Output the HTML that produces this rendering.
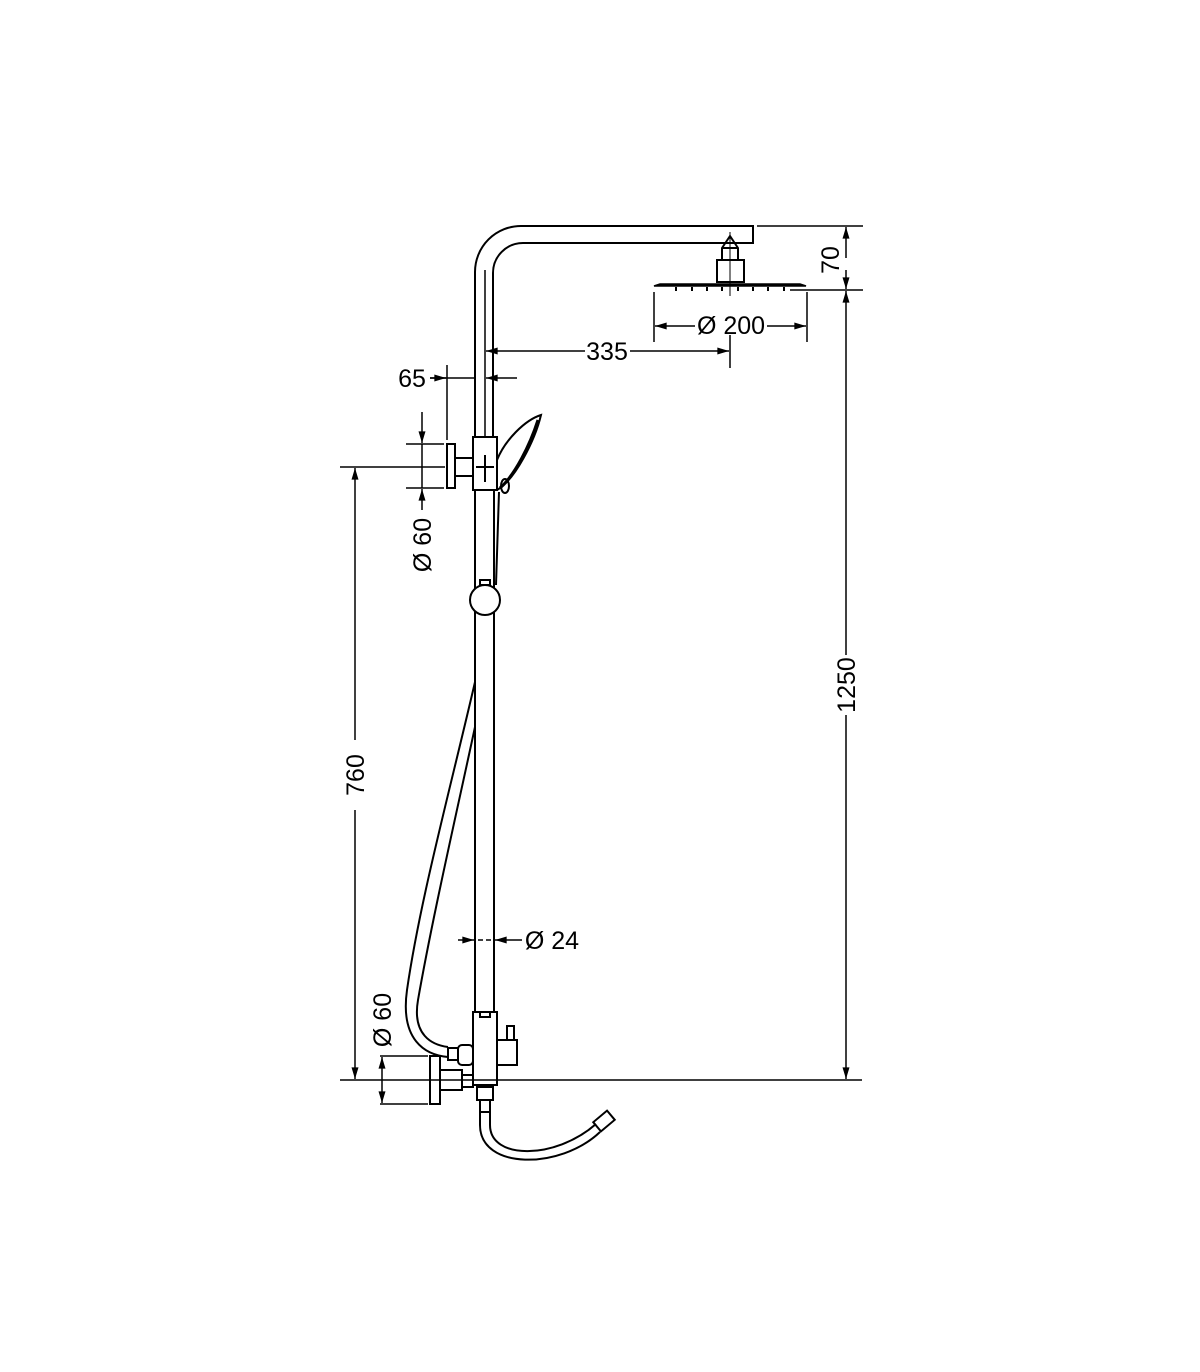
<!DOCTYPE html>
<html><head><meta charset="utf-8"><style>
html,body{margin:0;padding:0;background:#fff}
svg{display:block}
text{font-family:"Liberation Sans",sans-serif;font-size:25px;fill:#000}
</style></head><body>
<svg width="1200" height="1372" viewBox="0 0 1200 1372" xmlns="http://www.w3.org/2000/svg">
<defs>
<marker id="a" viewBox="0 0 10 6" refX="10" refY="3" markerWidth="18" markerHeight="7" markerUnits="userSpaceOnUse" orient="auto"><path d="M0,0 L10,3 L0,6 z" fill="#000"/></marker>
</defs>
<g fill="none" stroke="#000" stroke-width="2">
<path d="M475,437 V272 A46,46 0 0 1 521,226 H753 V243 H523 A30,30 0 0 0 493,273 V437"/>
<line x1="485" y1="270" x2="485" y2="437" stroke-width="1.5"/>
<path d="M722,260 V248 L730,236 L738,248 V260"/>
<line x1="722" y1="248" x2="738" y2="248"/>
<rect x="717" y="260" width="27" height="22"/>
<path d="M654,286 L660,284 H800 L806,286 Z" fill="#000" stroke-width="1.5"/>
<g stroke-width="2">
<line x1="676" y1="287" x2="676" y2="291"/><line x1="692" y1="287" x2="692" y2="291"/><line x1="707" y1="287" x2="707" y2="291"/><line x1="722" y1="287" x2="722" y2="291"/><line x1="738" y1="287" x2="738" y2="291"/><line x1="753" y1="287" x2="753" y2="291"/><line x1="768" y1="287" x2="768" y2="291"/><line x1="784" y1="287" x2="784" y2="291"/>
</g>
<line x1="730" y1="232" x2="730" y2="296" stroke-width="1"/>
<rect x="473" y="437" width="24" height="53"/>
<rect x="447" y="444" width="8" height="44"/>
<rect x="455" y="458" width="18" height="18"/>
<line x1="485" y1="455" x2="485" y2="482"/><line x1="476" y1="467" x2="494" y2="467"/>
<path d="M497,460 C505,440 525,420 541,415 C535,440 515,480 497,490"/>
<path d="M538,420 C530,445 515,475 500,488" stroke-width="3"/>
<ellipse cx="505" cy="486" rx="4" ry="7"/>
<line x1="475" y1="490" x2="475" y2="1012"/><line x1="494" y1="490" x2="494" y2="1012"/>
<path d="M499,492 C498,530 497,560 496,585"/>
<circle cx="485" cy="600" r="15" fill="#fff"/>
<rect x="480" y="580" width="10" height="5"/>
<path d="M475,682 C450,790 420,900 407,990 C400,1040 425,1055 448,1057"/>
<path d="M475,727 C455,820 432,920 418,1000 C412,1035 432,1045 448,1047"/>
<rect x="473" y="1012" width="24" height="73"/>
<rect x="480" y="1012" width="10" height="5"/>
<rect x="497" y="1040" width="20" height="25"/>
<rect x="507" y="1026" width="7" height="14"/>
<rect x="448" y="1048" width="10" height="12"/>
<rect x="458" y="1045" width="15" height="20" rx="4"/>
<rect x="430" y="1056" width="10" height="48"/>
<rect x="440" y="1070" width="22" height="20"/>
<rect x="462" y="1075" width="11" height="12"/>
<rect x="477" y="1087" width="16" height="13"/>
<rect x="480" y="1100" width="10" height="12"/>
<path d="M480,1112 V1125 C480,1170 560,1170 600,1132"/>
<path d="M490,1112 V1125 C490,1160 555,1160 596,1124"/>
<rect x="598" y="1112" width="12" height="18" transform="rotate(50 604 1121)"/>
</g>
<g stroke="#000" stroke-width="1.5" fill="none">
<line x1="757" y1="226" x2="863" y2="226"/>
<line x1="790" y1="290" x2="863" y2="290"/>
<line x1="846" y1="258" x2="846" y2="227" marker-end="url(#a)"/>
<line x1="846" y1="270" x2="846" y2="289" marker-end="url(#a)"/>
<line x1="846" y1="655" x2="846" y2="291" marker-end="url(#a)"/>
<line x1="846" y1="715" x2="846" y2="1079" marker-end="url(#a)"/>
<line x1="654" y1="292" x2="654" y2="342"/><line x1="807" y1="292" x2="807" y2="342"/>
<line x1="695" y1="326" x2="655" y2="326" marker-end="url(#a)"/>
<line x1="767" y1="326" x2="806" y2="326" marker-end="url(#a)"/>
<line x1="730" y1="335" x2="730" y2="368"/>
<line x1="585" y1="351" x2="486" y2="351" marker-end="url(#a)"/>
<line x1="630" y1="351" x2="729" y2="351" marker-end="url(#a)"/>
<line x1="447" y1="365" x2="447" y2="440"/>
<line x1="430" y1="378" x2="475" y2="378"/>
<line x1="430" y1="378" x2="446" y2="378" marker-end="url(#a)"/>
<line x1="517" y1="378" x2="486" y2="378" marker-end="url(#a)"/>
<line x1="406" y1="444" x2="444" y2="444"/><line x1="406" y1="488" x2="444" y2="488"/>
<line x1="422" y1="412" x2="422" y2="443" marker-end="url(#a)"/>
<line x1="422" y1="510" x2="422" y2="489" marker-end="url(#a)"/>
<line x1="422" y1="444" x2="422" y2="488"/>
<line x1="340" y1="467" x2="445" y2="467"/>
<line x1="355" y1="740" x2="355" y2="468" marker-end="url(#a)"/>
<line x1="355" y1="810" x2="355" y2="1079" marker-end="url(#a)"/>
<line x1="340" y1="1080" x2="862" y2="1080"/>
<line x1="458" y1="940" x2="474" y2="940" marker-end="url(#a)"/>
<line x1="522" y1="940" x2="495" y2="940" marker-end="url(#a)"/>
<line x1="478" y1="940" x2="492" y2="940" stroke-dasharray="5,3"/>
<line x1="380" y1="1056" x2="428" y2="1056"/><line x1="380" y1="1104" x2="428" y2="1104"/>
<line x1="382" y1="1065" x2="382" y2="1057" marker-end="url(#a)"/>
<line x1="382" y1="1095" x2="382" y2="1103" marker-end="url(#a)"/>
<line x1="382" y1="1065" x2="382" y2="1095"/>
</g>
<text x="607" y="360" text-anchor="middle">335</text>
<text x="731" y="334" text-anchor="middle">Ø 200</text>
<text x="412" y="387" text-anchor="middle">65</text>
<text x="552" y="949" text-anchor="middle">Ø 24</text>
<text transform="translate(839,260) rotate(-90)" text-anchor="middle">70</text>
<text transform="translate(855,685) rotate(-90)" text-anchor="middle">1250</text>
<text transform="translate(364,775) rotate(-90)" text-anchor="middle">760</text>
<text transform="translate(431,545) rotate(-90)" text-anchor="middle">Ø 60</text>
<text transform="translate(391,1020) rotate(-90)" text-anchor="middle">Ø 60</text>
</svg>
</body></html>
